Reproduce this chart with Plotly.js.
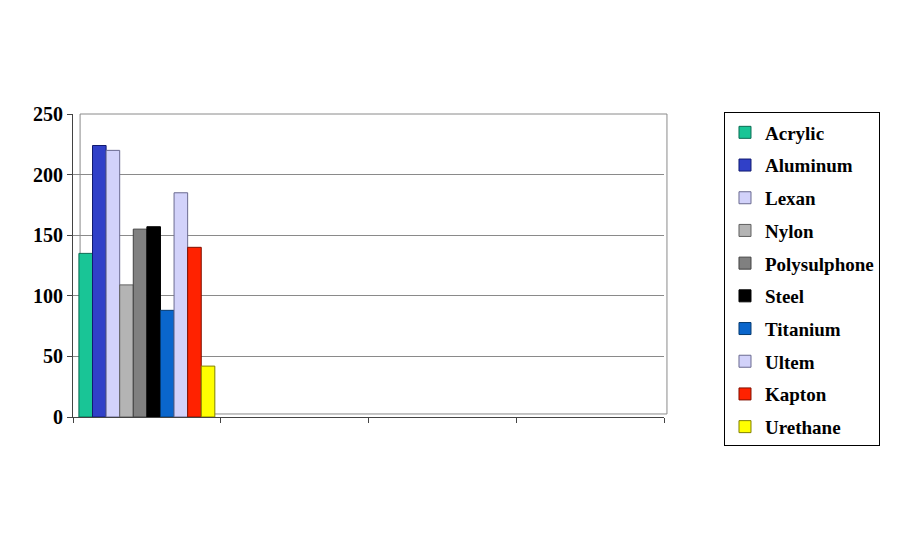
<!DOCTYPE html>
<html>
<head>
<meta charset="utf-8">
<script src="https://cdn.plot.ly/plotly-3.0.1.min.js"></script>
<style>html,body{margin:0;padding:0;background:#fff;}#chart{width:900px;height:550px;}</style>
</head>
<body>
<div id="chart"></div>
<script>
// Data (only the first category holds values)
const categoryPositions = [1];
const seriesNames = ["Acrylic","Aluminum","Lexan","Nylon","Polysulphone","Steel","Titanium","Ultem","Kapton","Urethane"];
const acrylic = [135];
const aluminum = [224];
const lexan = [220];
const nylon = [109];
const polysulphone = [155];
const steel = [157];
const titanium = [88];
const ultem = [185];
const kapton = [140];
const urethane = [42];
const yTickValues = [0, 50, 100, 150, 200, 250];
const xBoundaries = [0.5, 1.5, 2.5, 3.5, 4.5];

const seriesValues = [acrylic, aluminum, lexan, nylon, polysulphone, steel, titanium, ultem, kapton, urethane];
const colors = ["#19c596","#3040c8","#d2d2fa","#b4b4b4","#808080","#000000","#0a66cc","#d2d2fa","#ff2200","#ffff00"];
const edges = ["#0a6b52","#101a70","#6a6a90","#606060","#404040","#000000","#053a70","#6a6a90","#801000","#808000"];

const traces = seriesNames.map((name, i) => ({
  type: "bar",
  name: name,
  x: categoryPositions,
  y: seriesValues[i],
  legendgroup: "g" + i,
  marker: {color: colors[i], line: {color: edges[i], width: 1}},
  hoverinfo: "name+y"
}));

const layout = {
  width: 900, height: 550,
  margin: {l: 73, r: 236, t: 114, b: 133},
  paper_bgcolor: "#ffffff",
  plot_bgcolor: "#ffffff",
  barmode: "group",
  bargap: 0.08,
  bargroupgap: 0,
  showlegend: true,
  font: {family: "Liberation Serif, Times New Roman, serif", color: "#000"},
  xaxis: {
    range: [0.5, 4.5],
    tickmode: "array",
    tickvals: xBoundaries,
    ticktext: xBoundaries.map(() => ""),
    showticklabels: false,
    ticks: "outside",
    ticklen: 5,
    tickcolor: "#444",
    showgrid: false,
    showline: true,
    linecolor: "#444",
    linewidth: 1,
    mirror: false,
    zeroline: false
  },
  yaxis: {
    range: [0, 250],
    tickmode: "array",
    tickvals: yTickValues,
    ticks: "outside",
    ticklen: 5,
    tickcolor: "#444",
    showline: true,
    linecolor: "#444",
    showgrid: true,
    gridcolor: "#8a8a8a",
    gridwidth: 1,
    zeroline: false,
    tickfont: {family: "Liberation Serif, Times New Roman, serif", size: 20, color: "#000", weight: "bold"}
  },
  legend: {
    x: 1.1015, y: 1.005, xanchor: "left", yanchor: "top",
    bordercolor: "#000", borderwidth: 1,
    bgcolor: "#fff",
    tracegroupgap: 5,
    maxheight: 500,
    itemwidth: 30,
    font: {family: "Liberation Serif, Times New Roman, serif", size: 19, color: "#000", weight: "bold"}
  },
  shapes: [
    {type: "rect", xref: "paper", yref: "paper", x0: 0.012, x1: 1.005, y0: 0.01, y1: 1.0,
     line: {color: "#8a8a8a", width: 1}, fillcolor: "rgba(0,0,0,0)", layer: "below"}
  ]
};

Plotly.newPlot("chart", traces, layout, {displayModeBar: false, staticPlot: true});
</script>
</body>
</html>
